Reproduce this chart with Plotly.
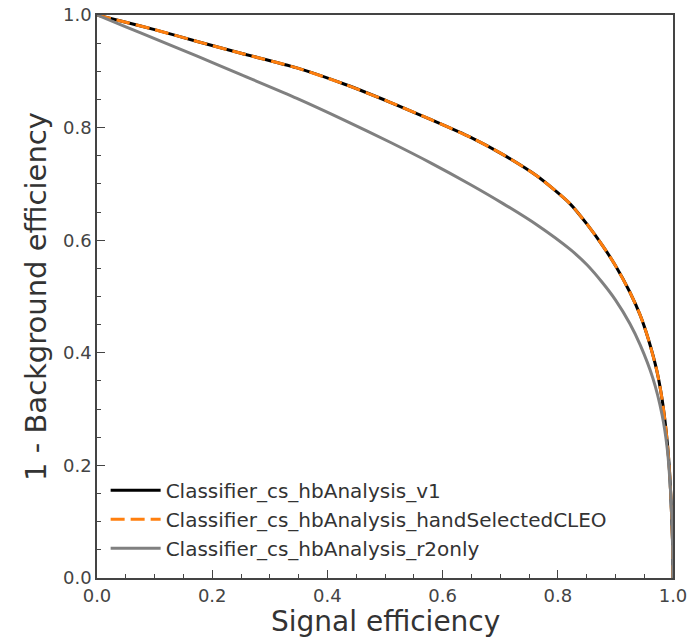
import plotly.graph_objects as go

# Data
sig_v1 = [0, 0.05, 0.1, 0.174, 0.25, 0.347, 0.43, 0.509, 0.58, 0.648, 0.705, 0.764,
          0.821, 0.851, 0.878, 0.9, 0.925, 0.943, 0.957, 0.972, 0.981, 0.988, 0.993,
          0.996, 0.999, 1.0]
bkg_v1 = [1.0, 0.987, 0.974, 0.953, 0.932, 0.906, 0.877, 0.845, 0.814, 0.783, 0.752, 0.714,
          0.665, 0.628, 0.590, 0.555, 0.508, 0.467, 0.425, 0.368, 0.318, 0.262, 0.205,
          0.15, 0.07, 0.0]

sig_hand = sig_v1
bkg_hand = bkg_v1

sig_r2 = [0, 0.05, 0.1, 0.174, 0.25, 0.347, 0.43, 0.509, 0.58, 0.648, 0.705, 0.764,
          0.821, 0.851, 0.878, 0.9, 0.925, 0.943, 0.965, 0.981, 0.99, 0.996, 0.999, 1.0]
bkg_r2 = [1.0, 0.979, 0.958, 0.927, 0.894, 0.852, 0.813, 0.774, 0.737, 0.699, 0.665, 0.627,
          0.584, 0.556, 0.524, 0.494, 0.452, 0.414, 0.355, 0.29, 0.23, 0.15, 0.075, 0.0]

names = ["Classifier_cs_hbAnalysis_v1",
         "Classifier_cs_hbAnalysis_handSelectedCLEO",
         "Classifier_cs_hbAnalysis_r2only"]

ticks = [0.0, 0.2, 0.4, 0.6, 0.8, 1.0]
tick_text = ["0.0", "0.2", "0.4", "0.6", "0.8", "1.0"]

x_title = "Signal efficiency"
y_title = "1 - Background efficiency"

FONT = "DejaVu Sans"

fig = go.Figure()
fig.add_trace(go.Scatter(x=sig_v1, y=bkg_v1, mode="lines", name=names[0],
                         line=dict(color="black", width=3, shape="spline", smoothing=0.7)))
fig.add_trace(go.Scatter(x=sig_hand, y=bkg_hand, mode="lines", name=names[1],
                         line=dict(color="#ff7f0e", width=3, dash="14px,6px",
                                   shape="spline", smoothing=0.7)))
fig.add_trace(go.Scatter(x=sig_r2, y=bkg_r2, mode="lines", name=names[2],
                         line=dict(color="#808080", width=3, shape="spline", smoothing=0.7)))

axis_common = dict(
    range=[0, 1],
    tickvals=ticks,
    ticktext=tick_text,
    ticks="inside",
    ticklen=8,
    tickwidth=1.2,
    tickcolor="#444",
    showline=True,
    linecolor="#444",
    linewidth=1.5,
    mirror=True,
    showgrid=False,
    zeroline=False,
    automargin=False,
    ticklabeloverflow="allow",
    tickfont=dict(family=FONT, size=18, color="#444"),
    minor=dict(dtick=0.05, ticks="inside", ticklen=4, tickcolor="#444", tickwidth=1, showgrid=False),
)

fig.update_layout(
    width=687,
    height=639,
    margin=dict(l=97, r=14, t=15, b=61),
    paper_bgcolor="white",
    plot_bgcolor="white",
    font=dict(family=FONT, color="#333"),
    xaxis=dict(axis_common, ticklabelstandoff=1),
    yaxis=dict(axis_common,
               title=dict(text=y_title, font=dict(family=FONT, size=29, color="#333"),
                          standoff=8)),
    legend=dict(x=0.015, y=0.018, xanchor="left", yanchor="bottom",
                bgcolor="rgba(0,0,0,0)", borderwidth=0, itemwidth=50,
                font=dict(family=FONT, size=20, color="#333")),
    showlegend=True,
    annotations=[dict(text=x_title, xref="paper", yref="paper", x=0.5, y=-0.077,
                      xanchor="center", yanchor="middle", showarrow=False,
                      font=dict(family=FONT, size=28, color="#333"))],
)

fig.write_html("out.html")
